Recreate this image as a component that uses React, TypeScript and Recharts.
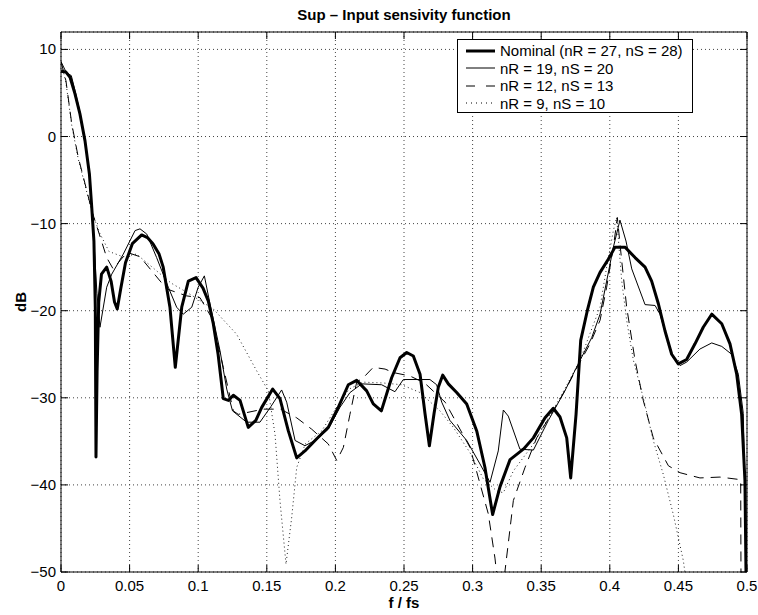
import { LineChart, Line, XAxis, YAxis, CartesianGrid } from "recharts";

const FONT = "'Liberation Sans', Arial, Helvetica, sans-serif";

const FREQ_TICKS = [0, 0.05, 0.1, 0.15, 0.2, 0.25, 0.3, 0.35, 0.4, 0.45, 0.5];
const DB_TICKS = [-50, -40, -30, -20, -10, 0, 10];

// Nominal (nR = 27, nS = 28)
const nominalF = [
  0, 0.0036, 0.0066, 0.0102, 0.0138, 0.0175, 0.0207, 0.0224, 0.024, 0.025, 0.0255, 0.0263, 0.0275, 0.0295,
  0.0333, 0.0365, 0.039, 0.041, 0.0435, 0.047, 0.052, 0.0588, 0.063, 0.067, 0.0715, 0.0745, 0.0794, 0.0833,
  0.088, 0.0928, 0.0984, 0.1035, 0.1074, 0.111, 0.1145, 0.1183, 0.122, 0.1256, 0.1305, 0.1365, 0.142, 0.1463,
  0.1543, 0.1596, 0.1657, 0.1718, 0.1778, 0.1864, 0.1948, 0.2021, 0.2094, 0.2155, 0.2228, 0.2276, 0.2335,
  0.241, 0.2471, 0.252, 0.2568, 0.2617, 0.2653, 0.2685, 0.2719, 0.275, 0.2782, 0.2823, 0.2884, 0.2957, 0.303,
  0.309, 0.3146, 0.32, 0.3273, 0.337, 0.3443, 0.3528, 0.3588, 0.3637, 0.3686, 0.3715, 0.3754, 0.3788, 0.3836,
  0.388, 0.3929, 0.3989, 0.4038, 0.4111, 0.4184, 0.4257, 0.4305, 0.4354, 0.4402, 0.4451, 0.4499, 0.456,
  0.4621, 0.4681, 0.4743, 0.4816, 0.4876, 0.4925, 0.4961, 0.4985, 0.4997,
];
const nominalDb = [
  7.5, 7.4, 6.8, 4.9, 2.6, -0.5, -4.3, -8.1, -12, -19.6, -36.8, -27, -19, -15.8,
  -15.0, -16.6, -19, -19.8, -17.5, -14.5, -12.3, -11.3, -11.6, -12.3, -13.5, -15, -19.6, -26.5,
  -19.6, -16.6, -16.2, -17.4, -18.9, -21.5, -25, -30.1, -30.3, -29.7, -30.3, -33.4, -32.6, -31.1,
  -29, -30.1, -33.8, -36.9, -36.1, -34.7, -33.4, -31.1, -28.5, -28.0, -29.2, -30.7, -31.5,
  -27.7, -25.4, -24.8, -25.2, -27.3, -31.8, -35.5, -31.8, -28.8, -27.4, -28.4, -29.4, -30.7, -33.8,
  -38, -43.4, -40.2, -37.1, -35.9, -34.6, -32.3, -31.2, -32.2, -34.6, -39.2, -31.9, -23.4, -20,
  -17.3, -15.6, -14.1, -12.7, -12.7, -13.9, -15.0, -16.6, -19.2, -22.3, -25.0, -26.1, -25.6,
  -23.8, -21.9, -20.4, -21.5, -23.8, -27.3, -31.9, -39.5, -56,
];

// nR = 19, nS = 20
const order19F = [
  0, 0.004, 0.0075, 0.0102, 0.0138, 0.0175, 0.0207, 0.0224, 0.024, 0.0262, 0.0284, 0.0333, 0.037, 0.0454,
  0.054, 0.0576, 0.0625, 0.0697, 0.0782, 0.0843, 0.0891, 0.0953, 0.1, 0.1045, 0.1086, 0.1159, 0.1208, 0.125,
  0.1353, 0.145, 0.153, 0.1608, 0.1645, 0.1706, 0.1778, 0.1864, 0.1948, 0.2033, 0.2106, 0.2192, 0.2337,
  0.2434, 0.2495, 0.2689, 0.2738, 0.2775, 0.2835, 0.2957, 0.3054, 0.3127, 0.3187, 0.3224, 0.326, 0.3345,
  0.3443, 0.3552, 0.3673, 0.377, 0.3868, 0.3929, 0.3977, 0.4026, 0.4074, 0.4118, 0.416, 0.4257, 0.433,
  0.4366, 0.4415, 0.4463, 0.4512, 0.456, 0.4657, 0.4743, 0.4816, 0.4888, 0.4937, 0.4973, 0.499, 0.4998,
];
const order19Db = [
  8.6, 7.3, 7.0, 5.3, 2.8, -0.4, -4.2, -8, -12, -18, -21.9, -17.3, -15.8, -13.5,
  -10.8, -10.6, -11.2, -13.9, -17.3, -19.6, -20.4, -19.6, -17.3, -16.0, -19.2, -24.6, -29.0, -31.5,
  -32.8, -32.8, -31, -29.1, -30.5, -34.9, -35.5, -34.8, -33.6, -31.1, -29.4, -28.4, -28.5,
  -29.3, -27.9, -27.9, -28.5, -30.5, -32.6, -34.9, -37.6, -39.7, -36.1, -31.4, -32.1, -35.9,
  -36.0, -32.6, -29.2, -26.1, -23.1, -20.4, -16.6, -12.7, -9.6, -12.0, -15.2, -19.3, -19.4,
  -20.4, -23.1, -25.4, -26.3, -25.9, -24.4, -23.7, -24.1, -25.0, -27.3, -31.8, -45, -56,
];

// nR = 12, nS = 13
const order12F = [
  0, 0.0036, 0.0078, 0.0126, 0.0175, 0.0224, 0.0279, 0.0333, 0.038, 0.0454, 0.05, 0.0576, 0.077, 0.0916,
  0.1013, 0.1098, 0.1183, 0.1256, 0.1292, 0.1474, 0.16, 0.1718, 0.1827, 0.1948, 0.201, 0.2058, 0.2106,
  0.2155, 0.2203, 0.2276, 0.2362, 0.2422, 0.2544, 0.265, 0.28, 0.2981, 0.3114, 0.3163, 0.3195, 0.3236,
  0.3297, 0.3382, 0.3467, 0.3588, 0.3686, 0.3783, 0.3856, 0.3929, 0.3977, 0.4026, 0.4055, 0.4087, 0.4123,
  0.4184, 0.4244, 0.4317, 0.4427, 0.4512, 0.4657, 0.4803, 0.4954, 0.4958,
];
const order12Db = [
  8.6, 6.4, 1.5, -2.4, -5.4, -8.5, -11.2, -13.9, -15.2, -13.8, -13.4, -13.8, -17.5, -18.3,
  -18.5, -20.8, -26.5, -31.5, -31.9, -31.3, -31.3, -32.3, -33.6, -35.3, -37.2, -35.7, -31.9,
  -28.2, -27.7, -26.5, -26.7, -27.1, -27.5, -28.3, -30.5, -35.7, -43.3, -48.4, -53, -49.9,
  -41.8, -38, -34.6, -31.5, -28.8, -25.9, -23.8, -21.1, -17.3, -12.7, -9.3, -14.3, -19.6,
  -25.7, -30.3, -34.6, -37.8, -38.6, -39.2, -39.1, -39.4, -60,
];

// nR = 9, nS = 10
const order9F = [
  0, 0.0036, 0.0078, 0.0126, 0.0175, 0.0224, 0.0279, 0.035, 0.045, 0.055, 0.065, 0.08, 0.095, 0.111,
  0.128, 0.1426, 0.1511, 0.156, 0.1596, 0.164, 0.1681, 0.1718, 0.178, 0.19, 0.2, 0.21, 0.22, 0.235,
  0.2483, 0.2617, 0.2762, 0.286, 0.2981, 0.3078, 0.3176, 0.3224, 0.3297, 0.3443, 0.3637, 0.3783, 0.3856,
  0.3929, 0.3977, 0.4026, 0.405, 0.4087, 0.4123, 0.4172, 0.4244, 0.4317, 0.439, 0.4463, 0.4536, 0.46,
];
const order9Db = [
  8.6, 6.2, 1.3, -2.6, -5.6, -8.6, -11.0, -13.2, -13.8, -13.5, -14.8, -16.8, -18.2, -19.8,
  -22.7, -26.9, -29.2, -34.2, -41.8, -49.1, -43.8, -38, -35.3, -33.8, -31.3, -29, -28.2, -28.3,
  -28.5, -29.4, -31.5, -33.4, -36.3, -39.3, -40.7, -40.9, -38.4, -35.3, -30, -25.7, -22.6,
  -19.6, -15, -10.8, -9.3, -16.6, -21.1, -25.7, -30, -34.9, -38.8, -43.4, -48.7, -56,
];

const toPoints = (f: number[], db: number[]) => f.map((v, i) => ({ f: v, db: db[i] }));

const nominal = toPoints(nominalF, nominalDb);
const order19 = toPoints(order19F, order19Db);
const order12 = toPoints(order12F, order12Db);
const order9 = toPoints(order9F, order9Db);

const fmt = (v: number) => String(v).replace("-", "\u2212");

function BottomTick({ x, y, payload }: any) {
  return (
    <g>
      <line x1={x} x2={x} y1={y} y2={y - 7} stroke="#000" />
      <text x={x} y={y + 19} textAnchor="middle" fontSize={15} fontFamily={FONT} fill="#000">
        {fmt(payload.value)}
      </text>
    </g>
  );
}

function LeftTick({ x, y, payload }: any) {
  return (
    <g>
      <line x1={x} x2={x + 7} y1={y} y2={y} stroke="#000" />
      <text x={x - 5} y={y + 5} textAnchor="end" fontSize={15} fontFamily={FONT} fill="#000">
        {fmt(payload.value)}
      </text>
    </g>
  );
}

function TopTick({ x, y }: any) {
  return <line x1={x} x2={x} y1={y} y2={y + 7} stroke="#000" />;
}

function RightTick({ x, y }: any) {
  return <line x1={x} x2={x - 7} y1={y} y2={y} stroke="#000" />;
}

const LEGEND = [
  { label: "Nominal (nR = 27, nS = 28)", width: 3, dash: undefined },
  { label: "nR = 19, nS = 20", width: 1, dash: undefined },
  { label: "nR = 12, nS = 13", width: 1, dash: "9 11" },
  { label: "nR = 9, nS = 10", width: 1, dash: "1 4" },
];

export default function App() {
  return (
    <div style={{ position: "absolute", left: 0, top: 0, width: 758, height: 615, background: "#fff", fontFamily: FONT }}>
      <LineChart width={758} height={615} margin={{ top: 2, right: 0, bottom: 0, left: 0 }}>
        <CartesianGrid stroke="#444" strokeDasharray="1 3" />
        <XAxis
          type="number"
          dataKey="f"
          domain={[0, 0.5]}
          ticks={FREQ_TICKS}
          interval={0}
          allowDataOverflow
          height={43}
          tickLine={false}
          tickSize={0}
          tickMargin={0}
          tick={<BottomTick />}
          axisLine={{ stroke: "#000" }}
        />
        <XAxis
          xAxisId="top"
          orientation="top"
          type="number"
          dataKey="f"
          domain={[0, 0.5]}
          ticks={FREQ_TICKS}
          interval={0}
          allowDataOverflow
          height={30}
          tickLine={false}
          tickSize={0}
          tickMargin={0}
          tick={<TopTick />}
          axisLine={{ stroke: "#000" }}
        />
        <YAxis
          type="number"
          domain={[-50, 12]}
          ticks={DB_TICKS}
          interval={0}
          allowDataOverflow
          width={61}
          tickLine={false}
          tickSize={0}
          tickMargin={0}
          tick={<LeftTick />}
          axisLine={{ stroke: "#000" }}
        />
        <YAxis
          yAxisId="right"
          orientation="right"
          type="number"
          domain={[-50, 12]}
          ticks={DB_TICKS}
          interval={0}
          allowDataOverflow
          width={11}
          tickLine={false}
          tickSize={0}
          tickMargin={0}
          tick={<RightTick />}
          axisLine={{ stroke: "#000" }}
        />
        <Line data={order9} dataKey="db" type="linear" stroke="#222" strokeWidth={1} strokeDasharray="1 3" dot={false} activeDot={false} isAnimationActive={false} />
        <Line data={order12} dataKey="db" type="linear" stroke="#000" strokeWidth={1} strokeDasharray="10 7" dot={false} activeDot={false} isAnimationActive={false} />
        <Line data={order19} dataKey="db" type="linear" stroke="#000" strokeWidth={1} dot={false} activeDot={false} isAnimationActive={false} />
        <Line data={nominal} dataKey="db" type="linear" stroke="#000" strokeWidth={3} strokeLinejoin="round" dot={false} activeDot={false} isAnimationActive={false} />
      </LineChart>

      <div style={{ position: "absolute", left: 61, width: 686, top: 6, lineHeight: "17px", textAlign: "center", fontSize: 15, fontWeight: "bold" }}>
        Sup – Input sensivity function
      </div>
      <div style={{ position: "absolute", left: 61, width: 686, top: 594, lineHeight: "17px", textAlign: "center", fontSize: 15, fontWeight: "bold" }}>
        f / fs
      </div>
      <div style={{ position: "absolute", left: 20, top: 302, transform: "translate(-50%, -50%) rotate(-90deg)", fontSize: 15, fontWeight: "bold", lineHeight: "17px" }}>
        dB
      </div>

      <div
        style={{
          position: "absolute",
          left: 457,
          top: 39,
          width: 236,
          height: 74,
          boxSizing: "border-box",
          border: "1px solid #000",
          background: "#fff",
          paddingTop: 2,
        }}
      >
        {LEGEND.map((item) => (
          <div key={item.label} style={{ height: 17.5, display: "flex", alignItems: "center", fontSize: 15, whiteSpace: "nowrap" }}>
            <svg width={29} height={10} style={{ marginLeft: 8, marginRight: 5 }}>
              <line x1={0} x2={29} y1={5} y2={5} stroke="#000" strokeWidth={item.width} strokeDasharray={item.dash} />
            </svg>
            <span>{item.label}</span>
          </div>
        ))}
      </div>
    </div>
  );
}
